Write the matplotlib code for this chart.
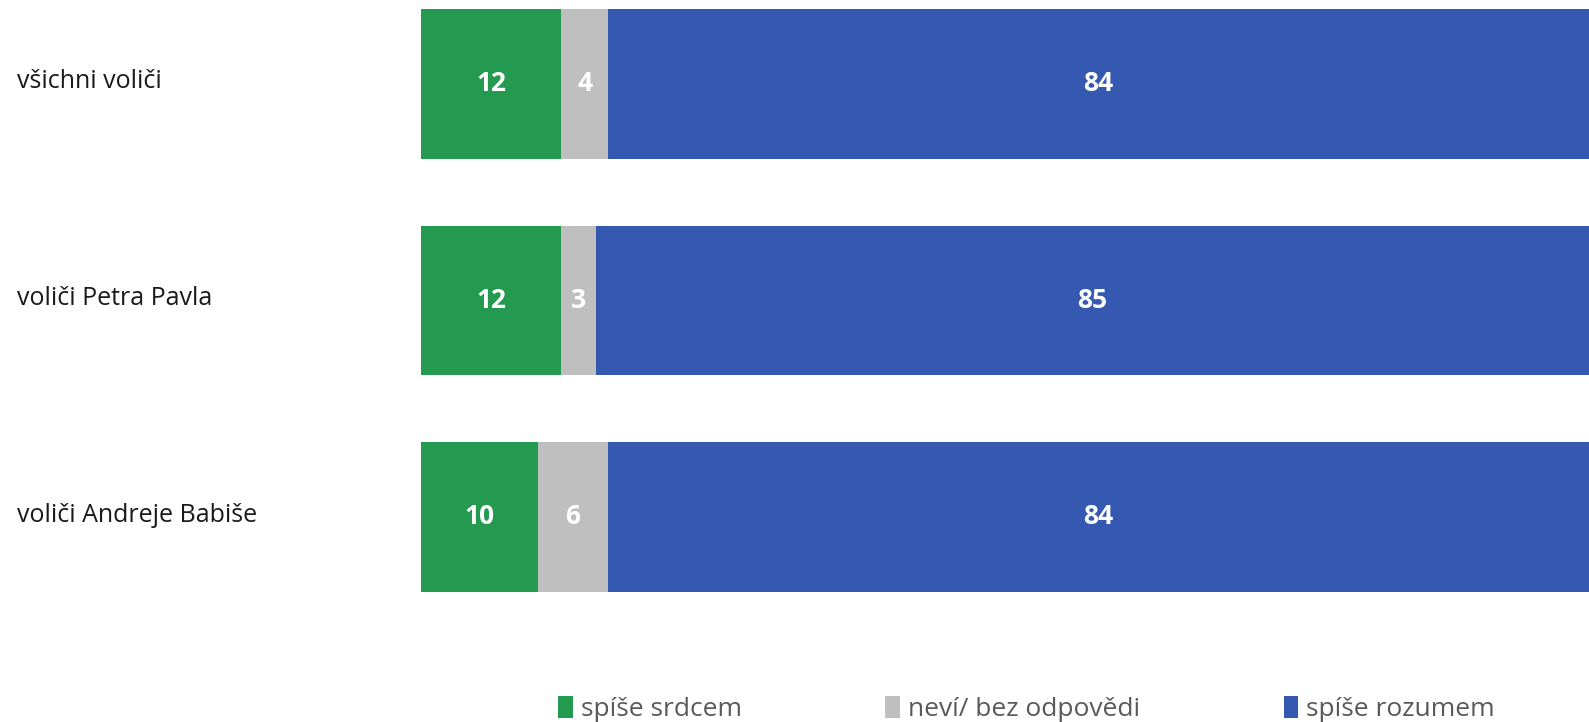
import numpy as np
import matplotlib
matplotlib.use("Agg")
import matplotlib.pyplot as plt
from matplotlib.patches import Patch

# data
skupiny = ["všichni voliči", "voliči Petra Pavla", "voliči Andreje Babiše"]
srdcem = [12, 12, 10]
nevi = [4, 3, 6]
rozumem = [84, 85, 84]
nazvy = ["spíše srdcem", "neví/ bez odpovědi", "spíše rozumem"]
barvy = ["#239a4f", "#bfbfbf", "#3559b0"]

plt.rcParams['font.family'] = ['Open Sans', 'DejaVu Sans']

fig = plt.figure(figsize=(15.89, 7.22), dpi=100)
ax = fig.add_axes([0.265, 0, 0.735, 1])

y = np.arange(len(skupiny))
vyska = 0.69
levy = np.zeros(len(skupiny))
for hodnoty, barva in zip([srdcem, nevi, rozumem], barvy):
    hodnoty = np.array(hodnoty)
    bars = ax.barh(y, hodnoty, left=levy, height=vyska, color=barva)
    for b, v in zip(bars, hodnoty):
        ax.text(b.get_x() + b.get_width() / 2, b.get_y() + b.get_height() / 2, str(v),
                ha='center', va='center', color='white', fontsize=19, fontweight='bold')
    levy += hodnoty

ax.set_xlim(0, 100)
ax.set_ylim(2.947, -0.388)
ax.axis('off')

for i, s in enumerate(skupiny):
    fig.text(0.011, 1 - (82 + i * 216.5) / 722, s, ha='left', va='center',
             fontsize=18, color='#1a1a1a')

handles = [Patch(facecolor=c, label=n) for c, n in zip(barvy, nazvy)]
leg = fig.legend(handles=handles, loc='center', bbox_to_anchor=(0.646, 0.018), ncol=3,
                 frameon=False, fontsize=19, handlelength=0.55, handleheight=0.9,
                 handletextpad=0.3, columnspacing=5.45, labelcolor='#595959')

fig.savefig("out.png", dpi=100)
